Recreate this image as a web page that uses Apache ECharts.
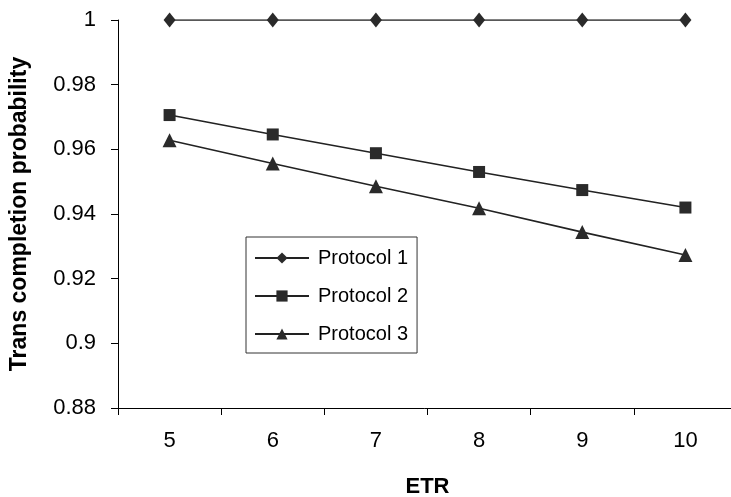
<!DOCTYPE html>
<html>
<head>
<meta charset="utf-8">
<script src="https://cdn.jsdelivr.net/npm/echarts@6/dist/echarts.min.js"></script>
<style>
  html, body { margin: 0; padding: 0; background: #fff; }
  #main { width: 731px; height: 497px; }
</style>
</head>
<body>
<div id="main"></div>
<script>
// 横轴类别
var etr = ['5', '6', '7', '8', '9', '10'];
// 三条曲线
var protocol1 = [1, 1, 1, 1, 1, 1];
var protocol2 = [0.9706, 0.9646, 0.9588, 0.9530, 0.9474, 0.9420];
var protocol3 = [0.9628, 0.9556, 0.9486, 0.9418, 0.9344, 0.9273];

var font = 'Liberation Sans, Arial, sans-serif';
var lineColor = '#222';

function makeSeries(name, data, symbol, size) {
  return {
    name: name,
    type: 'line',
    data: data,
    symbol: symbol,
    symbolSize: size,
    lineStyle: { color: lineColor, width: 1.6 },
    itemStyle: { color: '#2a2a2a' },
    animation: false
  };
}

var chart = echarts.init(document.getElementById('main'));
chart.setOption({
  animation: false,
  grid: { left: 118, right: -6, top: 20, bottom: 89, outerBoundsMode: 'none', containLabel: false },
  legend: {
    orient: 'vertical',
    left: 246,
    top: 237,
    padding: [10, 9, 8, 8],
    itemGap: 16,
    itemWidth: 54,
    itemHeight: 14,
    borderColor: '#333',
    borderWidth: 1,
    textStyle: { fontFamily: font, fontSize: 20, lineHeight: 22, color: '#000', padding: [0, 0, 0, 4] },
    data: ['Protocol 1', 'Protocol 2', 'Protocol 3']
  },
  xAxis: {
    type: 'category',
    data: etr,
    boundaryGap: true,
    name: 'ETR',
    nameLocation: 'middle',
    nameGap: 68,
    nameTextStyle: { fontFamily: font, fontSize: 22, fontWeight: 'bold', color: '#000' },
    axisLine: { lineStyle: { color: '#000', width: 1 } },
    axisTick: { show: true, length: 7, inside: false, lineStyle: { color: '#000' } },
    axisLabel: { fontFamily: font, fontSize: 22, color: '#000', margin: 22 },
    splitLine: { show: false }
  },
  yAxis: {
    type: 'value',
    min: 0.88,
    max: 1,
    interval: 0.02,
    name: 'Trans completion probability',
    nameLocation: 'middle',
    nameRotate: 90,
    nameGap: 87,
    nameTextStyle: { fontFamily: font, fontSize: 23, fontWeight: 'bold', color: '#000' },
    axisLine: { show: true, lineStyle: { color: '#000', width: 1 } },
    axisTick: { show: true, length: 7, lineStyle: { color: '#000' } },
    axisLabel: { fontFamily: font, fontSize: 22, color: '#000', margin: 22 },
    splitLine: { show: false }
  },
  series: [
    makeSeries('Protocol 1', protocol1, 'diamond', [12, 15]),
    makeSeries('Protocol 2', protocol2, 'rect', 12),
    makeSeries('Protocol 3', protocol3, 'triangle', 14)
  ]
});
</script>
</body>
</html>
